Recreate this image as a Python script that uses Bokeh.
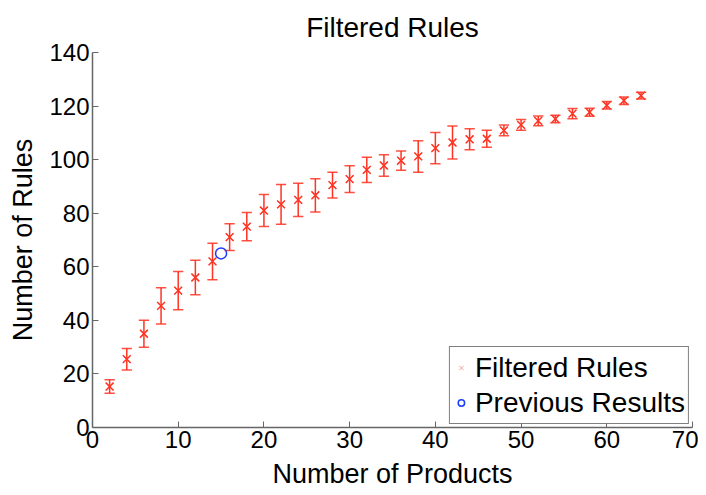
from bokeh.plotting import figure
from bokeh.models import ColumnDataSource, Range1d, Legend, LegendItem, FixedTicker
from bokeh.embed import file_html
from bokeh.resources import INLINE

products = [2, 4, 6, 8, 10, 12, 14, 16, 18, 20, 22, 24, 26, 28, 30, 32,
            34, 36, 38, 40, 42, 44, 46, 48, 50, 52, 54, 56, 58, 60, 62, 64]
rules_mean = [15.3, 25.5, 35.0, 45.4, 51.1, 56.0, 62.0, 71.1, 75.0, 81.0, 83.3, 85.0,
              86.7, 90.5, 92.7, 96.2, 97.8, 99.6, 101.2, 104.3, 106.4, 107.6, 107.8,
              110.9, 113.0, 114.5, 115.2, 117.2, 117.7, 120.3, 122.0, 123.9]
rules_err = [2.5, 4.0, 5.0, 6.8, 7.1, 6.4, 6.8, 5.0, 5.3, 6.0, 7.4, 6.2,
             6.2, 4.8, 5.0, 4.7, 4.0, 3.6, 5.9, 5.8, 6.2, 3.9, 3.2,
             2.0, 2.0, 1.8, 1.4, 1.9, 1.5, 1.4, 1.4, 1.3]
prev_products = [15]
prev_rules = [65]

FONT = "Liberation Sans"
RED = "#ff3322"

src = ColumnDataSource(dict(
    x=products, y=rules_mean,
    lo=[m - e for m, e in zip(rules_mean, rules_err)],
    hi=[m + e for m, e in zip(rules_mean, rules_err)],
    cl=[x - 0.6 for x in products],
    cr=[x + 0.6 for x in products],
))

p = figure(width=698, height=494, output_backend="svg", toolbar_location=None,
           x_range=Range1d(0, 70), y_range=Range1d(0, 140),
           min_border_left=92, min_border_right=6, min_border_top=0, min_border_bottom=67)
p.title.text = "Filtered Rules"
p.title.align = "center"
p.title.text_font = FONT
p.title.text_font_size = "28px"
p.title.text_font_style = "normal"
p.title.text_color = "black"
p.title.standoff = 19
p.outline_line_color = None
p.grid.visible = False

for ax in (p.xaxis[0], p.yaxis[0]):
    ax.axis_line_color = "#666666"
    ax.axis_line_width = 1.5
    ax.major_tick_line_color = "#666666"
    ax.major_tick_in = 6
    ax.major_tick_out = 0
    ax.minor_tick_line_color = None
    ax.major_label_text_font = FONT
    ax.major_label_text_font_size = "24px"
    ax.major_label_text_color = "black"
    ax.axis_label_text_font = FONT
    ax.axis_label_text_font_size = "27px"
    ax.axis_label_text_font_style = "normal"
    ax.axis_label_text_color = "black"

p.xaxis.ticker = FixedTicker(ticks=list(range(0, 71, 10)))
p.yaxis.ticker = FixedTicker(ticks=list(range(0, 141, 20)))
p.xaxis.axis_label = "Number of Products"
p.yaxis.axis_label = "Number of Rules"
p.xaxis.major_label_standoff = 3
p.yaxis.major_label_standoff = 3
p.xaxis.axis_label_standoff = 8
p.yaxis.axis_label_standoff = 8

p.segment("x", "lo", "x", "hi", source=src, line_color=RED, line_width=1.5)
p.segment("cl", "lo", "cr", "lo", source=src, line_color=RED, line_width=1.5, line_alpha=0.85)
p.segment("cl", "hi", "cr", "hi", source=src, line_color=RED, line_width=1.5, line_alpha=0.85)
pink = p.scatter("x", "y", source=src, marker="x", size=11, line_color="#f4a0a0", line_width=1)
main = p.scatter("x", "y", source=src, marker="x", size=11, line_color=RED, line_width=1.5)
prev = p.scatter(prev_products, prev_rules, marker="circle", size=11,
                 line_color="#1a3cff", fill_color=None, line_width=1.5)

legend = Legend(items=[LegendItem(label="Filtered Rules", renderers=[pink]),
                       LegendItem(label="Previous Results", renderers=[prev])],
                location="bottom_right")
legend.label_text_font = FONT
legend.label_text_font_size = "28px"
legend.label_text_color = "black"
legend.border_line_color = "black"
legend.border_line_width = 1
legend.margin = 3
legend.padding = 3
legend.spacing = 0
legend.glyph_width = 16
legend.glyph_height = 35
legend.label_standoff = 6
legend.label_height = 35
p.add_layout(legend)

open("out.html", "w").write(file_html(p, INLINE))
